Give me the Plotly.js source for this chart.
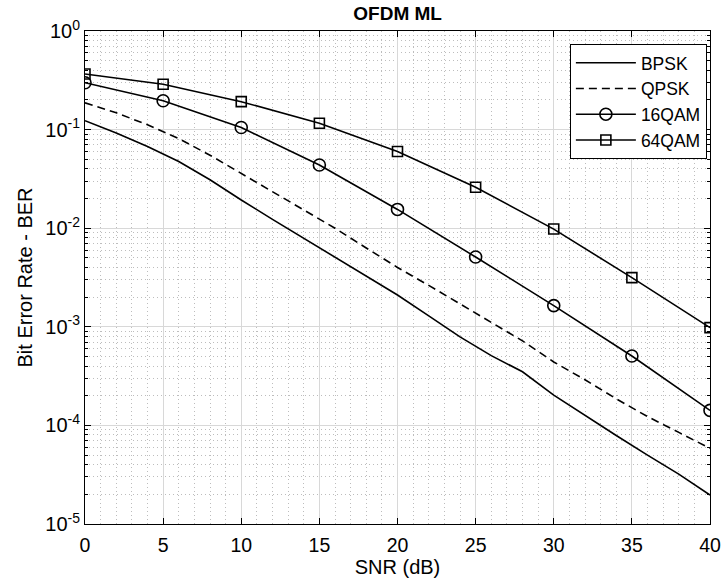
<!DOCTYPE html>
<html>
<head>
<meta charset="utf-8">
<script src="https://cdn.plot.ly/plotly-3.0.1.min.js"></script>
<style>html,body{margin:0;padding:0;background:#fff;}#chart{width:723px;height:585px;}</style>
</head>
<body>
<div id="chart"></div>
<script>
// SNR grids (dB)
const snrFine = [0,2,4,6,8,10,12,14,16,18,20,22,24,26,28,30,32,34,36,38,40];
const snrCoarse = [0,5,10,15,20,25,30,35,40];

// BER values
const berBPSK = [0.123,0.0925,0.0675,0.0475,0.0310,0.0193,0.0123,0.0079,0.0051,0.0033,0.0021,0.00129,0.00079,0.00051,0.00035,0.000203,0.000126,0.000079,0.000050,0.000032,0.0000197];
const berQPSK = [0.187,0.148,0.112,0.081,0.055,0.036,0.0234,0.0155,0.0100,0.0063,0.0040,0.00263,0.0017,0.00112,0.00072,0.00044,0.00029,0.000186,0.000123,0.000085,0.0000585];
const ber16QAM = [0.299,0.196,0.105,0.0438,0.0155,0.0051,0.00164,0.000506,0.000142];
const ber64QAM = [0.366,0.288,0.192,0.116,0.060,0.026,0.0098,0.00315,0.00098];

const seriesNames = ['BPSK','QPSK','16QAM','64QAM'];
const yTickVals = [1,0.1,0.01,0.001,0.0001,0.00001];
const yTickText = ['10<sup>0</sup>','10<sup>-1</sup>','10<sup>-2</sup>','10<sup>-3</sup>','10<sup>-4</sup>','10<sup>-5</sup>'];
const xTickVals = [0,5,10,15,20,25,30,35,40];

const lineStyle = {color:'#000', width:1.6};
const traces = [
  {x:snrFine, y:berBPSK, name:seriesNames[0], mode:'lines', line:Object.assign({dash:'solid'}, lineStyle)},
  {x:snrFine, y:berQPSK, name:seriesNames[1], mode:'lines', line:Object.assign({dash:'8px,5px'}, lineStyle)},
  {x:snrCoarse, y:ber16QAM, name:seriesNames[2], mode:'lines+markers', line:lineStyle,
   marker:{symbol:'circle-open', size:12, color:'#000', line:{width:1.6, color:'#000'}}},
  {x:snrCoarse, y:ber64QAM, name:seriesNames[3], mode:'lines+markers', line:lineStyle,
   marker:{symbol:'square-open', size:10, color:'#000', line:{width:1.6, color:'#000'}}}
];

const font = 'Liberation Sans, Arial, Helvetica, sans-serif';
const layout = {
  width:723, height:585,
  margin:{l:85, r:13, t:31, b:61},
  paper_bgcolor:'#fff', plot_bgcolor:'#fff',
  font:{family:font, color:'#000', size:18},
  title:{text:'<b>OFDM ML</b>', x:0.55, xanchor:'center', y:0.978, yanchor:'middle', font:{family:font, size:19, color:'#000'}},
  showlegend:true,
  legend:{x:0.995, xanchor:'right', y:0.974, yanchor:'top', bgcolor:'#fff', bordercolor:'#000', borderwidth:1,
          font:{family:font, size:17.5, color:'#000'}, tracegroupgap:0, itemwidth:60},
  xaxis:{
    range:[0,40], tickvals:xTickVals, ticks:'inside', ticklen:6, tickcolor:'#000',
    showline:true, linecolor:'#000', linewidth:1, mirror:'ticks',
    showgrid:true, gridcolor:'#d8d8d8', gridwidth:1, zeroline:false,
    minor:{dtick:1, showgrid:true, gridcolor:'#bdbdbd', griddash:'1px,3px', gridwidth:1},
    title:{text:'SNR (dB)', font:{family:font, size:20, color:'#000'}, standoff:2},
    tickfont:{family:font, size:19.5, color:'#000'}, ticklabelstandoff:4
  },
  yaxis:{
    type:'log', range:[-5,0], tickvals:yTickVals, ticktext:yTickText, ticks:'inside', ticklen:6, tickcolor:'#000',
    showline:true, linecolor:'#000', linewidth:1, mirror:'ticks',
    showgrid:true, gridcolor:'#d8d8d8', gridwidth:1, zeroline:false,
    minor:{dtick:'D1', showgrid:true, gridcolor:'#bdbdbd', griddash:'1px,3px', gridwidth:1, ticks:'inside', ticklen:3, tickcolor:'#000'},
    title:{text:'Bit Error Rate - BER', font:{family:font, size:20, color:'#000'}, standoff:7},
    tickfont:{family:font, size:20, color:'#000'}
  }
};
Plotly.newPlot('chart', traces, layout, {displayModeBar:false, staticPlot:true});
</script>
</body>
</html>
